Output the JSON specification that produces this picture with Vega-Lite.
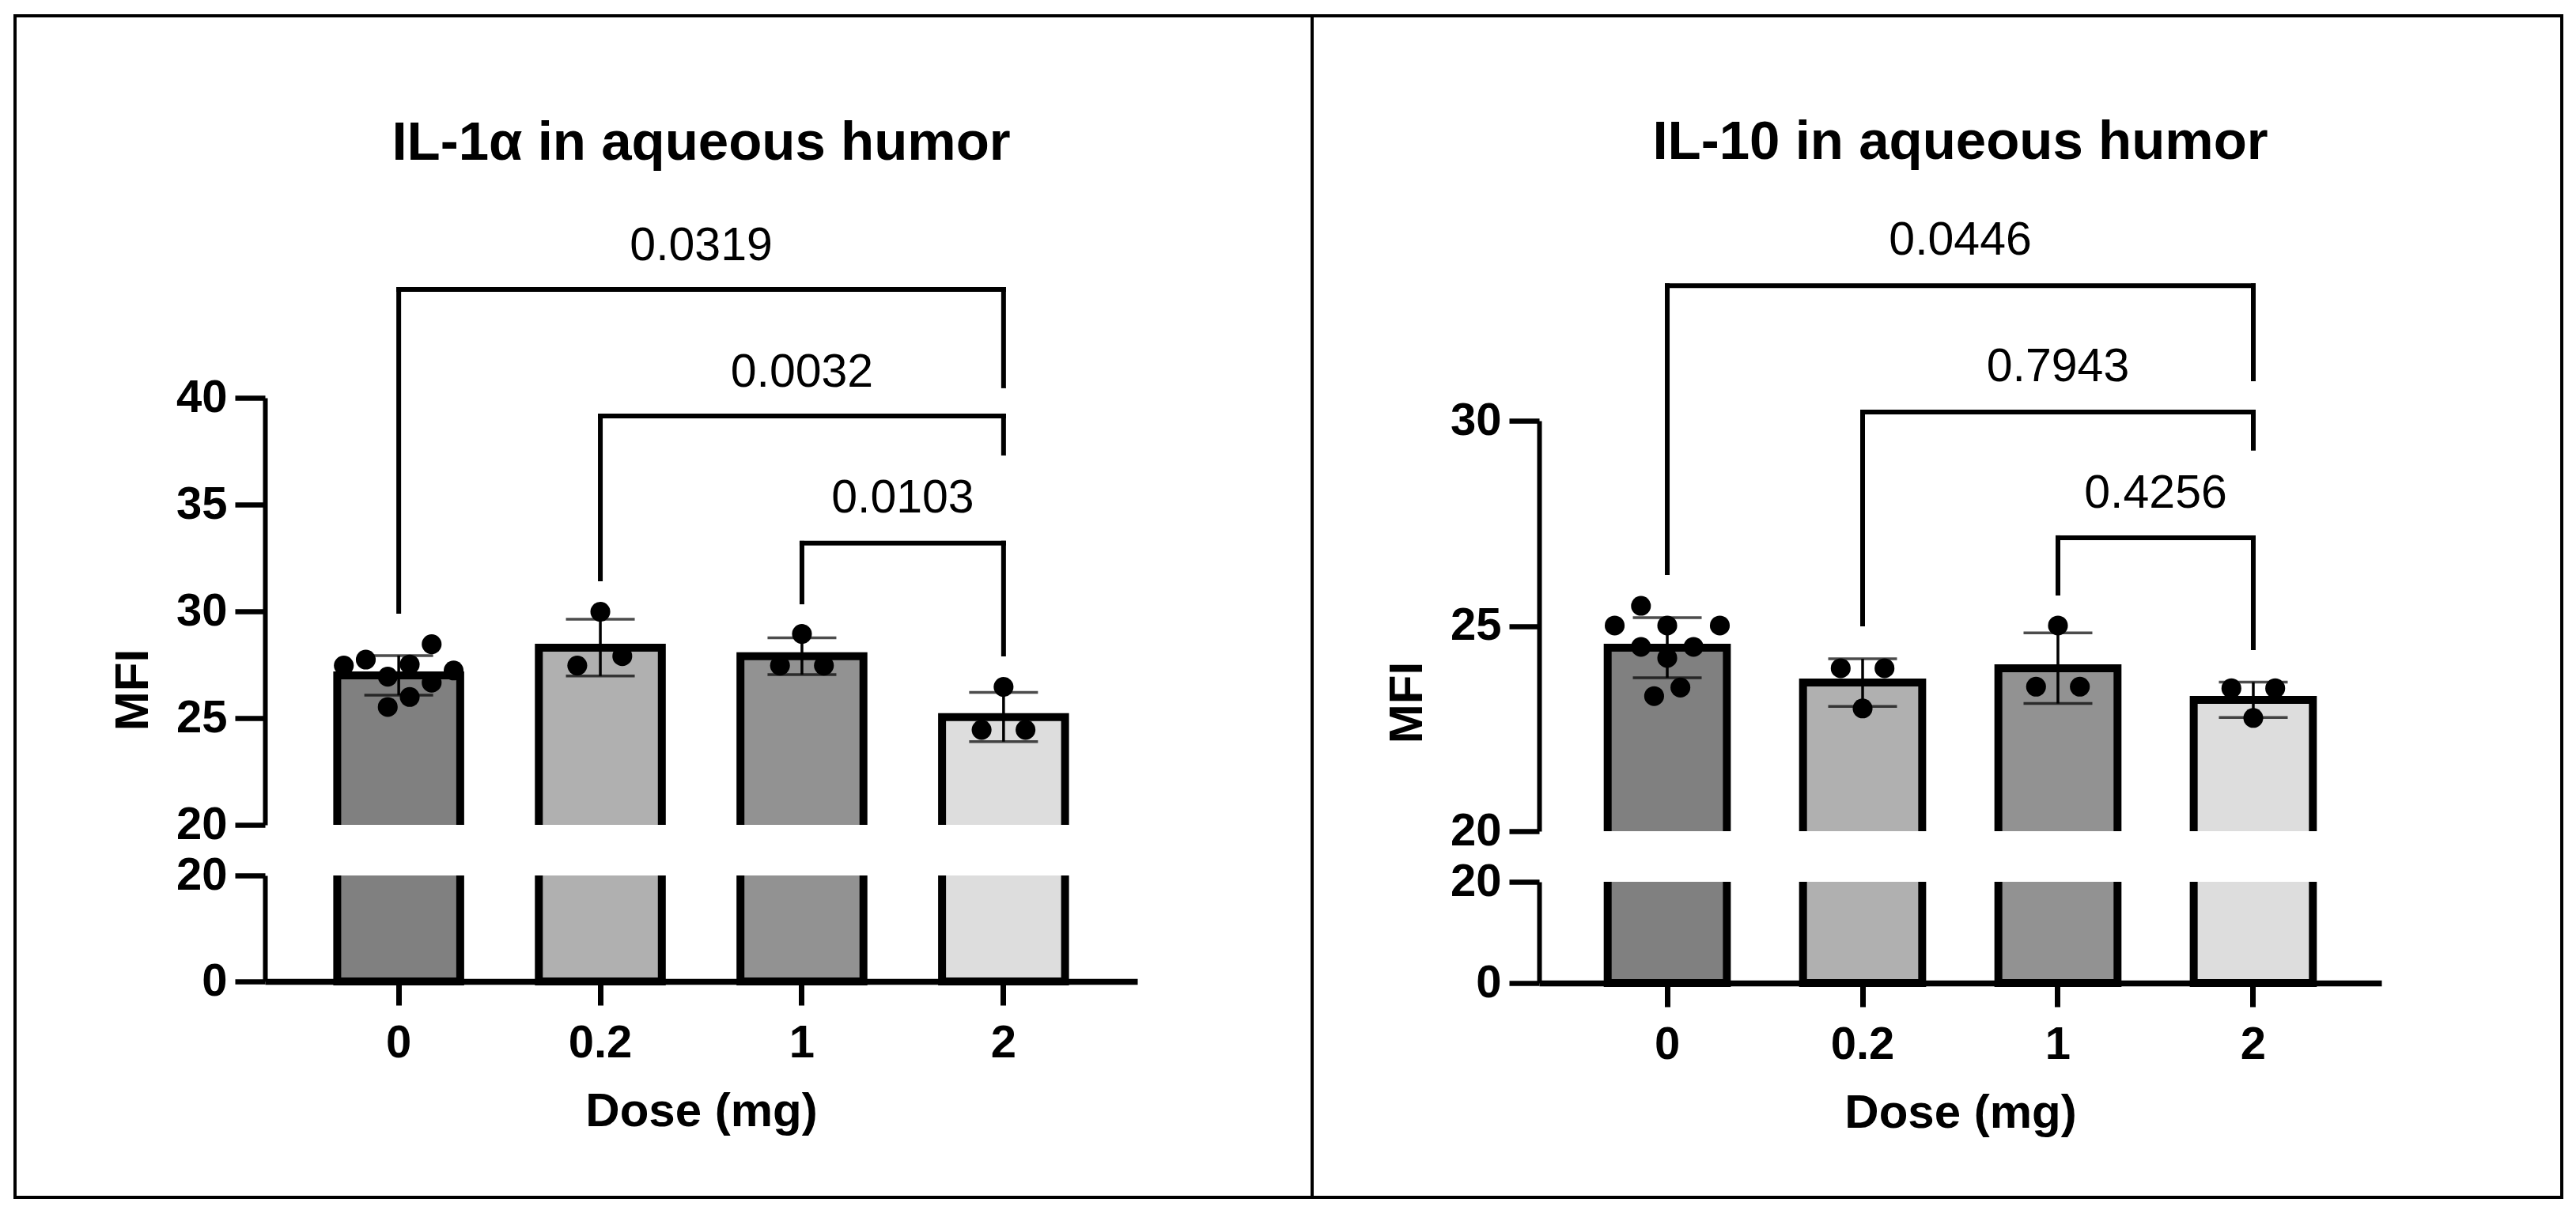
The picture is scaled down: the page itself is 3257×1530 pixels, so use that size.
{
  "$schema": "https://vega.github.io/schema/vega-lite/v6.json",
  "padding": {"left": 17, "top": 18, "right": 0, "bottom": 0},
  "spacing": 0,
  "bounds": "flush",
  "datasets": {
    "bars": [
      {"panel": "IL-1α", "dose": "0", "mean": 27.0, "sd": 0.93},
      {"panel": "IL-1α", "dose": "0.2", "mean": 28.3, "sd": 1.33},
      {"panel": "IL-1α", "dose": "1", "mean": 27.9, "sd": 0.86},
      {"panel": "IL-1α", "dose": "2", "mean": 25.05, "sd": 1.15},
      {"panel": "IL-10", "dose": "0", "mean": 24.47, "sd": 0.73},
      {"panel": "IL-10", "dose": "0.2", "mean": 23.62, "sd": 0.58},
      {"panel": "IL-10", "dose": "1", "mean": 23.97, "sd": 0.86},
      {"panel": "IL-10", "dose": "2", "mean": 23.2, "sd": 0.43}
    ],
    "dots": [
      {"panel": "IL-1α", "dose": "0", "mfi": 27.46, "col": -2.5},
      {"panel": "IL-1α", "dose": "0", "mfi": 27.74, "col": -1.5},
      {"panel": "IL-1α", "dose": "0", "mfi": 28.46, "col": 1.5},
      {"panel": "IL-1α", "dose": "0", "mfi": 27.51, "col": 0.5},
      {"panel": "IL-1α", "dose": "0", "mfi": 27.23, "col": 2.5},
      {"panel": "IL-1α", "dose": "0", "mfi": 26.94, "col": -0.5},
      {"panel": "IL-1α", "dose": "0", "mfi": 26.66, "col": 1.5},
      {"panel": "IL-1α", "dose": "0", "mfi": 25.99, "col": 0.5},
      {"panel": "IL-1α", "dose": "0", "mfi": 25.52, "col": -0.5},
      {"panel": "IL-1α", "dose": "0.2", "mfi": 27.46, "col": -1.05},
      {"panel": "IL-1α", "dose": "0.2", "mfi": 29.98, "col": 0},
      {"panel": "IL-1α", "dose": "0.2", "mfi": 27.9, "col": 1},
      {"panel": "IL-1α", "dose": "1", "mfi": 27.46, "col": -1},
      {"panel": "IL-1α", "dose": "1", "mfi": 28.94, "col": 0},
      {"panel": "IL-1α", "dose": "1", "mfi": 27.46, "col": 1},
      {"panel": "IL-1α", "dose": "2", "mfi": 24.45, "col": -1},
      {"panel": "IL-1α", "dose": "2", "mfi": 26.46, "col": 0},
      {"panel": "IL-1α", "dose": "2", "mfi": 24.45, "col": 1},
      {"panel": "IL-10", "dose": "0", "mfi": 25.49, "col": -1.2},
      {"panel": "IL-10", "dose": "0", "mfi": 25.01, "col": -2.4},
      {"panel": "IL-10", "dose": "0", "mfi": 25.01, "col": 0},
      {"panel": "IL-10", "dose": "0", "mfi": 25.01, "col": 2.4},
      {"panel": "IL-10", "dose": "0", "mfi": 24.49, "col": -1.2},
      {"panel": "IL-10", "dose": "0", "mfi": 24.49, "col": 1.2},
      {"panel": "IL-10", "dose": "0", "mfi": 24.22, "col": 0},
      {"panel": "IL-10", "dose": "0", "mfi": 23.5, "col": 0.6},
      {"panel": "IL-10", "dose": "0", "mfi": 23.29, "col": -0.6},
      {"panel": "IL-10", "dose": "0.2", "mfi": 23.97, "col": -1},
      {"panel": "IL-10", "dose": "0.2", "mfi": 23.97, "col": 1},
      {"panel": "IL-10", "dose": "0.2", "mfi": 22.99, "col": 0},
      {"panel": "IL-10", "dose": "1", "mfi": 25.01, "col": 0},
      {"panel": "IL-10", "dose": "1", "mfi": 23.52, "col": -1},
      {"panel": "IL-10", "dose": "1", "mfi": 23.52, "col": 1},
      {"panel": "IL-10", "dose": "2", "mfi": 23.48, "col": -1},
      {"panel": "IL-10", "dose": "2", "mfi": 23.48, "col": 1},
      {"panel": "IL-10", "dose": "2", "mfi": 22.76, "col": 0}
    ],
    "brackets": [
      {"panel": "IL-1α", "p": "0.0319", "from": "0", "to": "2", "top": 45.07, "endFrom": 30.0, "endTo": 40.56, "labelY": 46.44, "at": "0.2", "between": true},
      {"panel": "IL-1α", "p": "0.0032", "from": "0.2", "to": "2", "top": 39.15, "endFrom": 31.52, "endTo": 37.41, "labelY": 40.52, "at": "1", "between": false},
      {"panel": "IL-1α", "p": "0.0103", "from": "1", "to": "2", "top": 33.19, "endFrom": 30.44, "endTo": 28.0, "labelY": 34.63, "at": "1", "between": true},
      {"panel": "IL-10", "p": "0.0446", "from": "0", "to": "2", "top": 33.29, "endFrom": 26.3, "endTo": 31.02, "labelY": 34.05, "at": "0.2", "between": true},
      {"panel": "IL-10", "p": "0.7943", "from": "0.2", "to": "2", "top": 30.21, "endFrom": 25.05, "endTo": 29.33, "labelY": 30.96, "at": "1", "between": false},
      {"panel": "IL-10", "p": "0.4256", "from": "1", "to": "2", "top": 27.15, "endFrom": 25.8, "endTo": 24.47, "labelY": 27.88, "at": "1", "between": true}
    ]
  },
  "hconcat": [
    {
      "width": 1640,
      "height": 1494,
      "resolve": {"scale": {"y": "independent", "xOffset": "independent"}, "axis": {"y": "independent"}},
      "layer": [
        {
          "data": {"name": "bars"},
          "transform": [{"filter": "datum.panel === 'IL-1α'"}],
          "mark": {"type": "bar", "stroke": "black", "strokeWidth": 10},
          "encoding": {
            "x": {
              "field": "dose", "type": "nominal",
              "scale": {"domain": ["0", "0.2", "1", "2"], "range": [316, 1419], "paddingInner": 0.39, "paddingOuter": 0.3585},
              "axis": {"title": "Dose (mg)", "offset": -273, "titleY": 182, "titleBaseline": "alphabetic"}
            },
            "y": {
              "datum": 22, "type": "quantitative",
              "scale": {"domain": [0, 20], "range": [1221, 1087], "nice": false},
              "axis": {"values": [0, 20], "offset": -316, "title": null, "orient": "left", "format": "d"}
            },
            "y2": {"datum": 0},
            "color": {
              "field": "dose", "type": "nominal",
              "scale": {"domain": ["0", "0.2", "1", "2"], "range": ["#808080", "#b0b0b0", "#929292", "#dddddd"]},
              "legend": null
            }
          }
        },
        {
          "resolve": {"scale": {"xOffset": "independent"}},
          "layer": [
            {
              "data": {"name": "bars"},
              "transform": [{"filter": "datum.panel === 'IL-1α'"}],
              "mark": {"type": "bar", "stroke": "black", "strokeWidth": 10},
              "encoding": {
                "x": {"field": "dose", "type": "nominal"},
                "y": {
                  "field": "mean", "type": "quantitative", "stack": null,
                  "scale": {"domain": [20, 40], "range": [1023, 483], "nice": false, "zero": false},
                  "axis": {"values": [20, 25, 30, 35, 40], "format": "d", "offset": -316, "orient": "left", "title": "MFI", "titleX": -149, "titleY": 852, "titleAngle": 270, "titleBaseline": "alphabetic", "titleAlign": "center"}
                },
                "y2": {"datum": 19},
                "color": {"field": "dose", "type": "nominal", "legend": null}
              }
            },
            {
              "data": {"name": "bars"},
              "transform": [{"filter": "datum.panel === 'IL-1α'"}],
              "mark": {"type": "bar", "color": "white", "width": {"band": 1.2}},
              "encoding": {
                "x": {"field": "dose", "type": "nominal"},
                "y": {"datum": 20, "type": "quantitative"},
                "y2": {"datum": 17.63}
              }
            },
            {
              "data": {"name": "bars"},
              "transform": [{"filter": "datum.panel === 'IL-1α'"}],
              "mark": {"type": "errorbar", "ticks": {"size": 87, "thickness": 3.5, "color": "black"}, "rule": {"strokeWidth": 3.5, "color": "black"}},
              "encoding": {
                "x": {"field": "dose", "type": "nominal"},
                "y": {"field": "mean", "type": "quantitative", "title": "MFI"},
                "yError": {"field": "sd"}
              }
            },
            {
              "data": {"name": "dots"},
              "transform": [{"filter": "datum.panel === 'IL-1α'"}],
              "mark": {"type": "circle", "size": 630, "color": "black", "opacity": 1},
              "encoding": {
                "x": {"field": "dose", "type": "nominal"},
                "xOffset": {"field": "col", "type": "quantitative", "scale": {"domain": [-2.8, 2.8]}},
                "y": {"field": "mfi", "type": "quantitative", "title": "MFI"}
              }
            },
            {
              "data": {"name": "brackets"},
              "transform": [{"filter": "datum.panel === 'IL-1α'"}],
              "mark": {"type": "rule", "strokeWidth": 6, "strokeCap": "square", "color": "black"},
              "encoding": {
                "x": {"field": "from", "type": "nominal"},
                "x2": {"field": "to"},
                "y": {"field": "top", "type": "quantitative", "title": "MFI"}
              }
            },
            {
              "data": {"name": "brackets"},
              "transform": [{"filter": "datum.panel === 'IL-1α'"}],
              "mark": {"type": "rule", "strokeWidth": 6, "strokeCap": "square", "color": "black"},
              "encoding": {
                "x": {"field": "from", "type": "nominal"},
                "y": {"field": "top", "type": "quantitative", "title": "MFI"},
                "y2": {"field": "endFrom"}
              }
            },
            {
              "data": {"name": "brackets"},
              "transform": [{"filter": "datum.panel === 'IL-1α'"}],
              "mark": {"type": "rule", "strokeWidth": 6, "strokeCap": "square", "color": "black"},
              "encoding": {
                "x": {"field": "to", "type": "nominal"},
                "y": {"field": "top", "type": "quantitative", "title": "MFI"},
                "y2": {"field": "endTo"}
              }
            },
            {
              "data": {"name": "brackets"},
              "transform": [{"filter": "datum.panel === 'IL-1α' && !datum.between"}],
              "mark": {"type": "text", "fontSize": 59, "baseline": "alphabetic", "color": "black"},
              "encoding": {
                "x": {"field": "at", "type": "nominal", "bandPosition": 0.5},
                "y": {"field": "labelY", "type": "quantitative", "title": "MFI"},
                "text": {"field": "p"}
              }
            },
            {
              "data": {"name": "brackets"},
              "transform": [{"filter": "datum.panel === 'IL-1α' && datum.between"}],
              "mark": {"type": "text", "fontSize": 59, "baseline": "alphabetic", "color": "black"},
              "encoding": {
                "x": {"field": "at", "type": "nominal", "bandPosition": 1.32},
                "y": {"field": "labelY", "type": "quantitative", "title": "MFI"},
                "text": {"field": "p"}
              }
            },
            {
              "data": {"values": [{}]},
              "mark": {"type": "text", "fontSize": 69, "fontWeight": "bold", "baseline": "alphabetic", "color": "black"},
              "encoding": {
                "x": {"datum": "0.2", "type": "nominal", "bandPosition": 1.32},
                "y": {"datum": 51.15, "type": "quantitative"},
                "text": {"value": "IL-1α in aqueous humor"}
              }
            }
          ]
        }
      ]
    },
    {
      "width": 1580,
      "height": 1494,
      "resolve": {"scale": {"y": "independent", "xOffset": "independent"}, "axis": {"y": "independent"}},
      "layer": [
        {
          "data": {"name": "bars"},
          "transform": [{"filter": "datum.panel === 'IL-10'"}],
          "mark": {"type": "bar", "stroke": "black", "strokeWidth": 10},
          "encoding": {
            "x": {
              "field": "dose", "type": "nominal",
              "scale": {"domain": ["0", "0.2", "1", "2"], "range": [287, 1352], "paddingInner": 0.39, "paddingOuter": 0.351},
              "axis": {"title": "Dose (mg)", "offset": -271, "titleY": 182, "titleBaseline": "alphabetic"}
            },
            "y": {
              "datum": 22, "type": "quantitative",
              "scale": {"domain": [0, 20], "range": [1223, 1095], "nice": false},
              "axis": {"values": [0, 20], "offset": -287, "title": null, "orient": "left", "format": "d"}
            },
            "y2": {"datum": 0},
            "color": {
              "field": "dose", "type": "nominal",
              "scale": {"domain": ["0", "0.2", "1", "2"], "range": ["#808080", "#b0b0b0", "#929292", "#dddddd"]},
              "legend": null
            }
          }
        },
        {
          "resolve": {"scale": {"xOffset": "independent"}},
          "layer": [
            {
              "data": {"name": "bars"},
              "transform": [{"filter": "datum.panel === 'IL-10'"}],
              "mark": {"type": "bar", "stroke": "black", "strokeWidth": 10},
              "encoding": {
                "x": {"field": "dose", "type": "nominal"},
                "y": {
                  "field": "mean", "type": "quantitative", "stack": null,
                  "scale": {"domain": [20, 30], "range": [1031, 512], "nice": false, "zero": false},
                  "axis": {"values": [20, 25, 30], "format": "d", "offset": -287, "orient": "left", "title": "MFI", "titleX": -149, "titleY": 868, "titleAngle": 270, "titleBaseline": "alphabetic", "titleAlign": "center"}
                },
                "y2": {"datum": 19.4},
                "color": {"field": "dose", "type": "nominal", "legend": null}
              }
            },
            {
              "data": {"name": "bars"},
              "transform": [{"filter": "datum.panel === 'IL-10'"}],
              "mark": {"type": "bar", "color": "white", "width": {"band": 1.2}},
              "encoding": {
                "x": {"field": "dose", "type": "nominal"},
                "y": {"datum": 20, "type": "quantitative"},
                "y2": {"datum": 18.767}
              }
            },
            {
              "data": {"name": "bars"},
              "transform": [{"filter": "datum.panel === 'IL-10'"}],
              "mark": {"type": "errorbar", "ticks": {"size": 87, "thickness": 3.5, "color": "black"}, "rule": {"strokeWidth": 3.5, "color": "black"}},
              "encoding": {
                "x": {"field": "dose", "type": "nominal"},
                "y": {"field": "mean", "type": "quantitative", "title": "MFI"},
                "yError": {"field": "sd"}
              }
            },
            {
              "data": {"name": "dots"},
              "transform": [{"filter": "datum.panel === 'IL-10'"}],
              "mark": {"type": "circle", "size": 630, "color": "black", "opacity": 1},
              "encoding": {
                "x": {"field": "dose", "type": "nominal"},
                "xOffset": {"field": "col", "type": "quantitative", "scale": {"domain": [-2.72, 2.72]}},
                "y": {"field": "mfi", "type": "quantitative", "title": "MFI"}
              }
            },
            {
              "data": {"name": "brackets"},
              "transform": [{"filter": "datum.panel === 'IL-10'"}],
              "mark": {"type": "rule", "strokeWidth": 6, "strokeCap": "square", "color": "black"},
              "encoding": {
                "x": {"field": "from", "type": "nominal"},
                "x2": {"field": "to"},
                "y": {"field": "top", "type": "quantitative", "title": "MFI"}
              }
            },
            {
              "data": {"name": "brackets"},
              "transform": [{"filter": "datum.panel === 'IL-10'"}],
              "mark": {"type": "rule", "strokeWidth": 6, "strokeCap": "square", "color": "black"},
              "encoding": {
                "x": {"field": "from", "type": "nominal"},
                "y": {"field": "top", "type": "quantitative", "title": "MFI"},
                "y2": {"field": "endFrom"}
              }
            },
            {
              "data": {"name": "brackets"},
              "transform": [{"filter": "datum.panel === 'IL-10'"}],
              "mark": {"type": "rule", "strokeWidth": 6, "strokeCap": "square", "color": "black"},
              "encoding": {
                "x": {"field": "to", "type": "nominal"},
                "y": {"field": "top", "type": "quantitative", "title": "MFI"},
                "y2": {"field": "endTo"}
              }
            },
            {
              "data": {"name": "brackets"},
              "transform": [{"filter": "datum.panel === 'IL-10' && !datum.between"}],
              "mark": {"type": "text", "fontSize": 59, "baseline": "alphabetic", "color": "black"},
              "encoding": {
                "x": {"field": "at", "type": "nominal", "bandPosition": 0.5},
                "y": {"field": "labelY", "type": "quantitative", "title": "MFI"},
                "text": {"field": "p"}
              }
            },
            {
              "data": {"name": "brackets"},
              "transform": [{"filter": "datum.panel === 'IL-10' && datum.between"}],
              "mark": {"type": "text", "fontSize": 59, "baseline": "alphabetic", "color": "black"},
              "encoding": {
                "x": {"field": "at", "type": "nominal", "bandPosition": 1.32},
                "y": {"field": "labelY", "type": "quantitative", "title": "MFI"},
                "text": {"field": "p"}
              }
            },
            {
              "data": {"values": [{}]},
              "mark": {"type": "text", "fontSize": 69, "fontWeight": "bold", "baseline": "alphabetic", "color": "black"},
              "encoding": {
                "x": {"datum": "0.2", "type": "nominal", "bandPosition": 1.32},
                "y": {"datum": 36.38, "type": "quantitative"},
                "text": {"value": "IL-10 in aqueous humor"}
              }
            }
          ]
        }
      ]
    }
  ],
  "config": {
    "font": "Liberation Sans",
    "view": {"stroke": "black", "strokeWidth": 4},
    "text": {"font": "Liberation Sans"},
    "axis": {
      "grid": false,
      "domainColor": "black",
      "tickColor": "black",
      "labelColor": "black",
      "titleColor": "black",
      "labelFont": "Liberation Sans",
      "titleFont": "Liberation Sans",
      "labelFontWeight": "bold",
      "titleFontWeight": "bold",
      "labelFontSize": 58,
      "titleFontSize": 60
    },
    "axisY": {"domainWidth": 6, "tickWidth": 6.5, "tickSize": 38, "labelPadding": 10},
    "axisX": {"domainWidth": 7.5, "tickWidth": 7, "tickSize": 30, "labelPadding": 19, "labelAngle": 0}
  }
}
